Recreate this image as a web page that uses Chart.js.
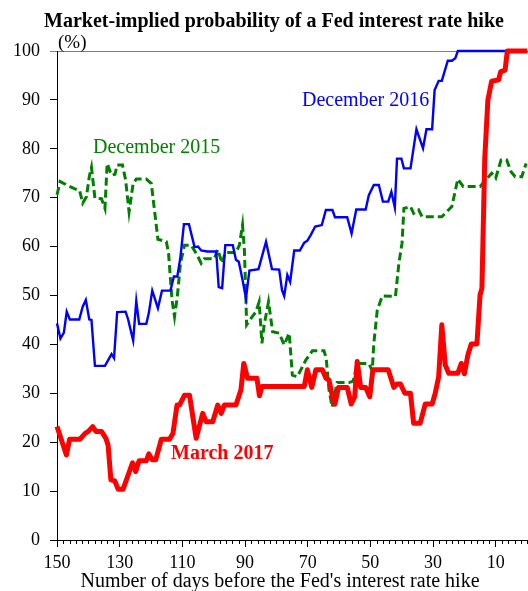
<!DOCTYPE html>
<html>
<head>
<meta charset="utf-8">
<script src="https://cdn.jsdelivr.net/npm/chart.js@4.4.1/dist/chart.umd.min.js"></script>
<style>
    html, body { margin: 0; padding: 0; background: #fff; }
    #wrap { width: 528px; height: 591px; position: relative; }
</style>
</head>
<body>
<div id="wrap"><canvas id="hikeChart"></canvas></div>
<script>
// Market-implied probability of a Fed hike, by days before the meeting

// x tick labels (days before the hike)
const dayTicks = [150, 130, 110, 90, 70, 50, 30, 10];

// [days before hike, probability %]
const dec2015 = [
    [150, 70.6], [149, 73.3], [146.9, 72.6], [144.3, 71.8], [142.8, 71.5], [141.8, 68.9],
    [140.6, 70.2], [139.7, 74.3], [139, 76.2], [137.9, 69.9], [135.8, 69.8], [134.7, 67.8],
    [134, 77], [132.6, 74.6], [131.5, 74.8], [130.8, 76.7], [129.1, 76.7], [128.1, 73.6],
    [127, 67.1], [125.7, 72.9], [124.7, 73.8], [121.5, 73.8], [119.9, 72.9], [117.8, 61.5],
    [116.7, 61.3], [115.1, 61], [114.4, 58.6], [113.3, 49.1], [112.5, 45.7], [111.6, 49.8],
    [110.6, 56.6], [109.3, 60.3], [107.2, 60.3], [105.3, 58.3], [104, 56.6], [103, 57.5],
    [99.8, 57.5], [98.7, 59.4], [97.3, 56.6], [96.3, 58.8], [92.9, 58.8], [91.8, 60.3],
    [90.8, 64.4], [90.2, 59.3], [89.7, 49.1], [89.5, 44], [88.1, 45.3], [86.5, 46.7],
    [85.5, 48.7], [84.6, 40.2], [83.9, 44], [82.5, 48.7], [81.2, 42.6], [79.1, 42.3],
    [77.5, 39.9], [75.9, 42.3], [74.9, 33.7], [73.3, 33.4], [70.6, 36.8], [68.5, 38.7],
    [64.8, 38.7], [64.1, 37.2], [63.2, 30.7], [62.2, 27.2], [60.6, 32.2], [56.8, 32.2],
    [55.5, 32.5], [54.2, 36.1], [50.5, 36.1], [49.4, 34.6], [48.9, 40.2], [47.8, 47],
    [46.2, 49.9], [42, 49.8], [40.9, 56.6], [39.9, 60.7], [39.3, 67.8], [37.2, 68.2],
    [36.2, 66.8], [34.6, 67.5], [33.5, 66.1], [27.2, 66.1], [24, 68.2], [22.1, 73.8],
    [20.4, 72.3], [15, 72.3], [11.3, 75], [10, 74], [8.3, 77.7], [6.5, 77.7],
    [5.1, 75.3], [3.8, 74.3], [1.7, 74.3], [0.3, 77]
];

const dec2016 = [
    [150, 44.3], [148.9, 41.2], [147.8, 42.4], [146.9, 46.7], [145.9, 45.1], [142.9, 45.1],
    [141.8, 47.7], [140.8, 49.1], [139.7, 45.1], [139, 45], [137.9, 35.6], [134.7, 35.6],
    [132.6, 38], [131.8, 37.2], [130.8, 46.6], [128.1, 46.7], [127.3, 45.1], [125.7, 40.8],
    [124.7, 48.9], [123.8, 44.2], [121.5, 44.2], [120.7, 46.4], [119.6, 51], [117.8, 47.4],
    [116.5, 51], [113.8, 51], [112.7, 53.9], [111.6, 53.9], [110.6, 57.9], [109.5, 64.6],
    [107.9, 64.6], [106.1, 59.9], [105, 60], [104, 59.2], [102.1, 59], [99.2, 59],
    [98.4, 51.7], [97.3, 51.5], [96.3, 60.3], [93.9, 60.3], [92.9, 57.3], [92, 56.9],
    [90.8, 53.2], [89.7, 49.4], [88.6, 55.1], [85.7, 55.4], [83.3, 61], [81.4, 55.4],
    [79.1, 55.3], [78.2, 51.1], [77.5, 49.9], [76.5, 54.2], [75.6, 52.8], [74.3, 59.2],
    [72.5, 59.2], [71.1, 60.8], [70.1, 61.2], [69, 62.4], [67.6, 64.1], [65.5, 64.4],
    [64.2, 67.5], [62.1, 67.5], [61.3, 66], [57.4, 66], [56, 62.7], [54.5, 67.6],
    [51.5, 67.6], [50.5, 70.5], [48.9, 72.6], [47.3, 72.6], [46, 69.2], [44.3, 69.2],
    [43.3, 71.2], [42.2, 68], [41.5, 78], [40.1, 78], [39.3, 76], [37.2, 76],
    [35.3, 84], [33.2, 80.1], [32.1, 84], [30.3, 84], [29.5, 92], [28.2, 93.9],
    [27.2, 93.9], [25.3, 98], [24, 98], [22.9, 98.5], [22.1, 100], [0, 100]
];

const mar2017 = [
    [150, 23.2], [147, 17.4], [146, 20.6], [142.7, 20.6], [141, 21.8], [140, 22.2],
    [138.6, 23.2], [137.6, 22.2], [135.8, 22.2], [134.4, 20.8], [133.7, 19.4], [132.8, 12.3],
    [131.6, 12.1], [130.5, 10.4], [128.9, 10.4], [125.9, 15.8], [124.9, 14], [123.8, 16.2],
    [121.5, 16.2], [120.7, 17.6], [119.6, 16.4], [118.5, 16.4], [116.7, 20.6], [114.1, 20.6],
    [113, 21.8], [111.7, 27.6], [110.9, 27.6], [109.3, 29.6], [107.7, 29.6], [105.6, 20.8],
    [103.5, 25.9], [102.4, 24.2], [100.3, 24.2], [98.7, 27.6], [97.6, 25.9], [96.6, 27.6],
    [92.9, 27.6], [91.3, 30.7], [90.4, 36.1], [89.2, 33.1], [86.2, 33.1], [85.4, 29.5],
    [84.6, 31.4], [71.1, 31.4], [70.1, 34.8], [68.7, 31.2], [67.4, 34.8], [65.3, 34.8],
    [64.2, 33.1], [63.2, 32.7], [62.1, 29.3], [61.3, 27.8], [60.2, 31.2], [57.4, 31.2],
    [56.1, 27.8], [55, 29.3], [54.2, 36.5], [53.1, 31.2], [51.5, 31.2], [50.2, 29.3],
    [49.2, 34.8], [44.3, 34.8], [42.5, 31.2], [41.5, 31.9], [40.4, 31.9], [39, 30],
    [37.2, 30], [36.2, 23.9], [34.1, 23.9], [32.5, 27.8], [30.3, 27.8], [29.3, 30],
    [28.2, 33.4], [27.2, 44], [26.1, 35.8], [25, 34.1], [22.1, 34.1], [21, 36.1],
    [20, 34], [18.9, 37.8], [17.8, 40.1], [16, 40.1], [15, 50.1], [14.4, 51.5],
    [13.5, 78], [12.5, 90], [11.3, 93.8], [9.1, 94.1], [8.4, 95.8], [7, 96.1],
    [6.3, 100], [0, 100]
];

const FONT = "'Liberation Serif', 'Times New Roman', serif";

function toPoints(pairs) {
    return pairs.map(p => ({ x: p[0], y: p[1] }));
}

// Minor ticks every 2 days along the x axis
const minorTicks = {
    id: 'minorTicks',
    afterDraw(chart) {
        const x = chart.scales.x;
        const c = chart.ctx;
        const y0 = chart.chartArea.bottom;
        c.save();
        c.strokeStyle = '#000';
        c.lineWidth = 1;
        c.beginPath();
        for (let d = 0; d <= 150; d += 2) {
            if (dayTicks.includes(d) || d === 150) continue;
            const px = Math.round(x.getPixelForValue(d)) + 0.5;
            c.moveTo(px, y0);
            c.lineTo(px, y0 + 4);
        }
        c.stroke();
        c.restore();
    }
};

// Title, unit, series labels and axis title
const labels = {
    id: 'labels',
    afterDraw(chart) {
        const c = chart.ctx;
        c.save();
        c.textBaseline = 'alphabetic';

        c.fillStyle = '#000';
        c.textAlign = 'center';
        c.font = 'bold 20px ' + FONT;
        c.fillText('Market-implied probability of a Fed interest rate hike', 274, 27);

        c.font = '20px ' + FONT;
        c.fillText("Number of days before the Fed's interest rate hike", 280, 587);

        c.textAlign = 'left';
        c.font = '19px ' + FONT;
        c.fillText('(%)', 58, 48);

        c.font = '20px ' + FONT;
        c.fillStyle = '#008000';
        c.fillText('December 2015', 93, 153);
        c.fillStyle = '#0000ff';
        c.fillText('December 2016', 302, 106);

        c.font = 'bold 20px ' + FONT;
        c.fillStyle = '#ff0000';
        c.fillText('March 2017', 171, 459);
        c.restore();
    }
};

new Chart(document.getElementById('hikeChart'), {
    type: 'line',
    data: {
        datasets: [{
            label: 'March 2017',
            data: toPoints(mar2017),
            borderColor: '#ff0000',
            borderWidth: 5,
            borderJoinStyle: 'round',
            order: 0
        }, {
            label: 'December 2016',
            data: toPoints(dec2016),
            borderColor: '#0000ff',
            borderWidth: 2.4,
            order: 1
        }, {
            label: 'December 2015',
            data: toPoints(dec2015),
            borderColor: '#008000',
            borderWidth: 3,
            borderDash: [8, 4],
            order: 2
        }]
    },
    options: {
        responsive: true,
        maintainAspectRatio: false,
        animation: false,
        devicePixelRatio: 1,
        layout: {
            padding: { top: 51, left: 0, right: 0, bottom: 0 }
        },
        elements: {
            point: { radius: 0 },
            line: { tension: 0, fill: false }
        },
        datasets: {
            line: { clip: 6 }
        },
        plugins: {
            legend: { display: false },
            title: { display: false },
            tooltip: { enabled: false }
        },
        scales: {
            x: {
                type: 'linear',
                reverse: true,
                min: -0.3,
                max: 150,
                afterBuildTicks(scale) {
                    scale.ticks = dayTicks.map(v => ({ value: v }));
                },
                afterFit(scale) {
                    scale.height = 51;
                },
                border: { color: '#000', width: 1 },
                grid: {
                    drawOnChartArea: false,
                    tickLength: 7,
                    tickColor: '#000'
                },
                ticks: {
                    color: '#000',
                    padding: 5,
                    maxRotation: 0,
                    autoSkip: false,
                    font: { family: FONT, size: 18 }
                }
            },
            y: {
                min: 0,
                max: 100,
                afterFit(scale) {
                    scale.width = 57;
                },
                border: { color: '#000', width: 1 },
                grid: {
                    color: ctx => ctx.tick && ctx.tick.value === 100 ? '#808080' : 'rgba(0,0,0,0)',
                    tickColor: ctx => ctx.tick && ctx.tick.value === 100 ? '#808080' : '#000',
                    tickLength: 7
                },
                ticks: {
                    stepSize: 10,
                    color: '#000',
                    padding: 10,
                    font: { family: FONT, size: 18 }
                }
            }
        }
    },
    plugins: [minorTicks, labels]
});
</script>
</body>
</html>
